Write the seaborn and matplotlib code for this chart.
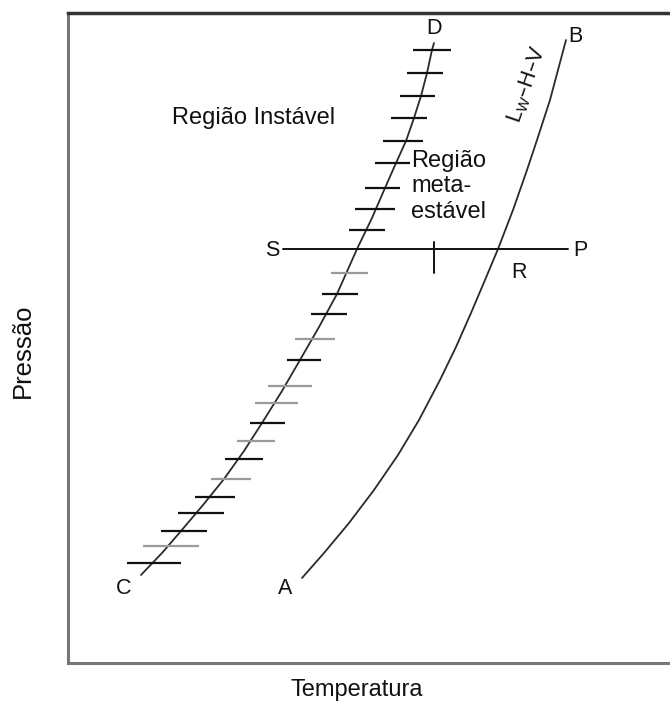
import numpy as np
import pandas as pd
import matplotlib
matplotlib.use("Agg")
import matplotlib.pyplot as plt
import seaborn as sns

# ---- data (schematic units: temperature to the right, pressure upward) ----
# curve C -> D (metastable limit, hatched)
cd_temp = [141, 162, 181, 203, 224, 244, 262, 282, 300, 319, 337, 357, 372, 385, 396, 406, 414, 421, 427, 432, 434]
cd_pres = [575, 553, 531, 505, 479, 451, 423, 391, 360, 327, 294, 249, 218, 188, 163, 141, 118, 96, 73, 50, 43]

# curve A -> B (Lw-H-V equilibrium)
ab_temp = [302, 324, 349, 374, 398, 419, 440, 456, 471, 485, 498, 513, 527, 537, 550, 558, 566]
ab_pres = [578, 553, 523, 490, 455, 420, 380, 347, 313, 280, 249, 210, 170, 140, 100, 70, 40]

# hatch marks on C-D
hatch_pres = [563, 546, 531, 513, 497, 479, 459, 441, 423, 403, 386, 360, 339,
              314, 294, 273, 230, 209, 188, 163, 141, 118, 96, 73, 50]
hatch_left = [127, 143, 161, 178, 195, 211, 225, 237, 250, 255, 268, 287, 295,
              311, 322, 331, 349, 355, 365, 375, 383, 391, 400, 407, 413]
hatch_right = [181, 199, 207, 224, 235, 251, 263, 275, 285, 298, 312, 321, 335,
               347, 358, 368, 385, 395, 400, 410, 423, 427, 435, 443, 451]
hatch_tone = ["k", "g", "k", "k", "k", "g", "k", "g", "k", "g", "g", "k", "g",
              "k", "k", "g", "k", "k", "k", "k", "k", "k", "k", "k", "k"]

# isobar S -> P and marker
sp_temp = [283, 568]
sp_pres = [249, 249]
mark_temp = [434, 434]
mark_pres = [242, 273]

point_labels = ["D", "B", "C", "A", "S", "P", "R"]
point_temp = [434, 575, 124, 285, 272, 580, 519]
point_pres = [28, 37, 588, 589, 251, 250, 273]

xlabel = "Temperatura"
ylabel = "Pressão"

# ---- plotting ----
sns.set_style("white")
plt.rcParams["font.family"] = ["Liberation Sans", "DejaVu Sans"]

W, H = 670, 702
fig = plt.figure(figsize=(W / 100, H / 100), dpi=100)
ax = fig.add_axes([68 / W, (H - 663) / H, (W - 68) / W, (663 - 13) / H])
ax.set_xlim(68, 670)
ax.set_ylim(663, 13)

line_col = "#2a2a2a"
cd = pd.DataFrame({"T": cd_temp, "P": cd_pres})
ab = pd.DataFrame({"T": ab_temp, "P": ab_pres})
sns.lineplot(data=cd, x="T", y="P", sort=False, color=line_col, lw=1.3, ax=ax)
sns.lineplot(data=ab, x="T", y="P", sort=False, color=line_col, lw=1.3, ax=ax)

tone_map = {"k": "#111111", "g": "#9a9a9a"}
for y, l, r, t in zip(hatch_pres, hatch_left, hatch_right, hatch_tone):
    ax.plot([l, r], [y, y], color=tone_map[t], lw=1.6, solid_capstyle="butt")

ax.plot(sp_temp, sp_pres, color="#111111", lw=1.4)
ax.plot(mark_temp, mark_pres, color="#111111", lw=1.4)

fs = 17
for lab, x, y in zip(point_labels, point_temp, point_pres):
    ax.text(x, y, lab, ha="center", va="center", fontsize=15.5, color="#111111")

ax.text(172, 118, "Região Instável", ha="left", va="center", fontsize=fs, color="#111111")
ax.text(411, 150, "Região\nmeta-\nestável", ha="left", va="top", fontsize=fs,
        color="#111111", linespacing=1.2)
ax.text(527, 84, r"L$_\mathregular{W}$–H–V", ha="center", va="center", fontsize=15.5,
        rotation=71, color="#111111")

ax.set_xticks([])
ax.set_yticks([])
ax.set_xlabel("")
ax.set_ylabel("")
for s in ["left", "bottom"]:
    ax.spines[s].set_color("#777777")
    ax.spines[s].set_linewidth(2.2)
ax.spines["top"].set_color("#333333")
ax.spines["top"].set_linewidth(2.5)
ax.spines["right"].set_visible(False)

fig.text(357 / W, 1 - 690 / H, xlabel, ha="center", va="center", fontsize=fs, color="#111111")
fig.text(23 / W, 1 - 351 / H, ylabel, ha="center", va="center", fontsize=18.5,
         rotation=90, color="#111111")

fig.savefig("out.png", dpi=100)
